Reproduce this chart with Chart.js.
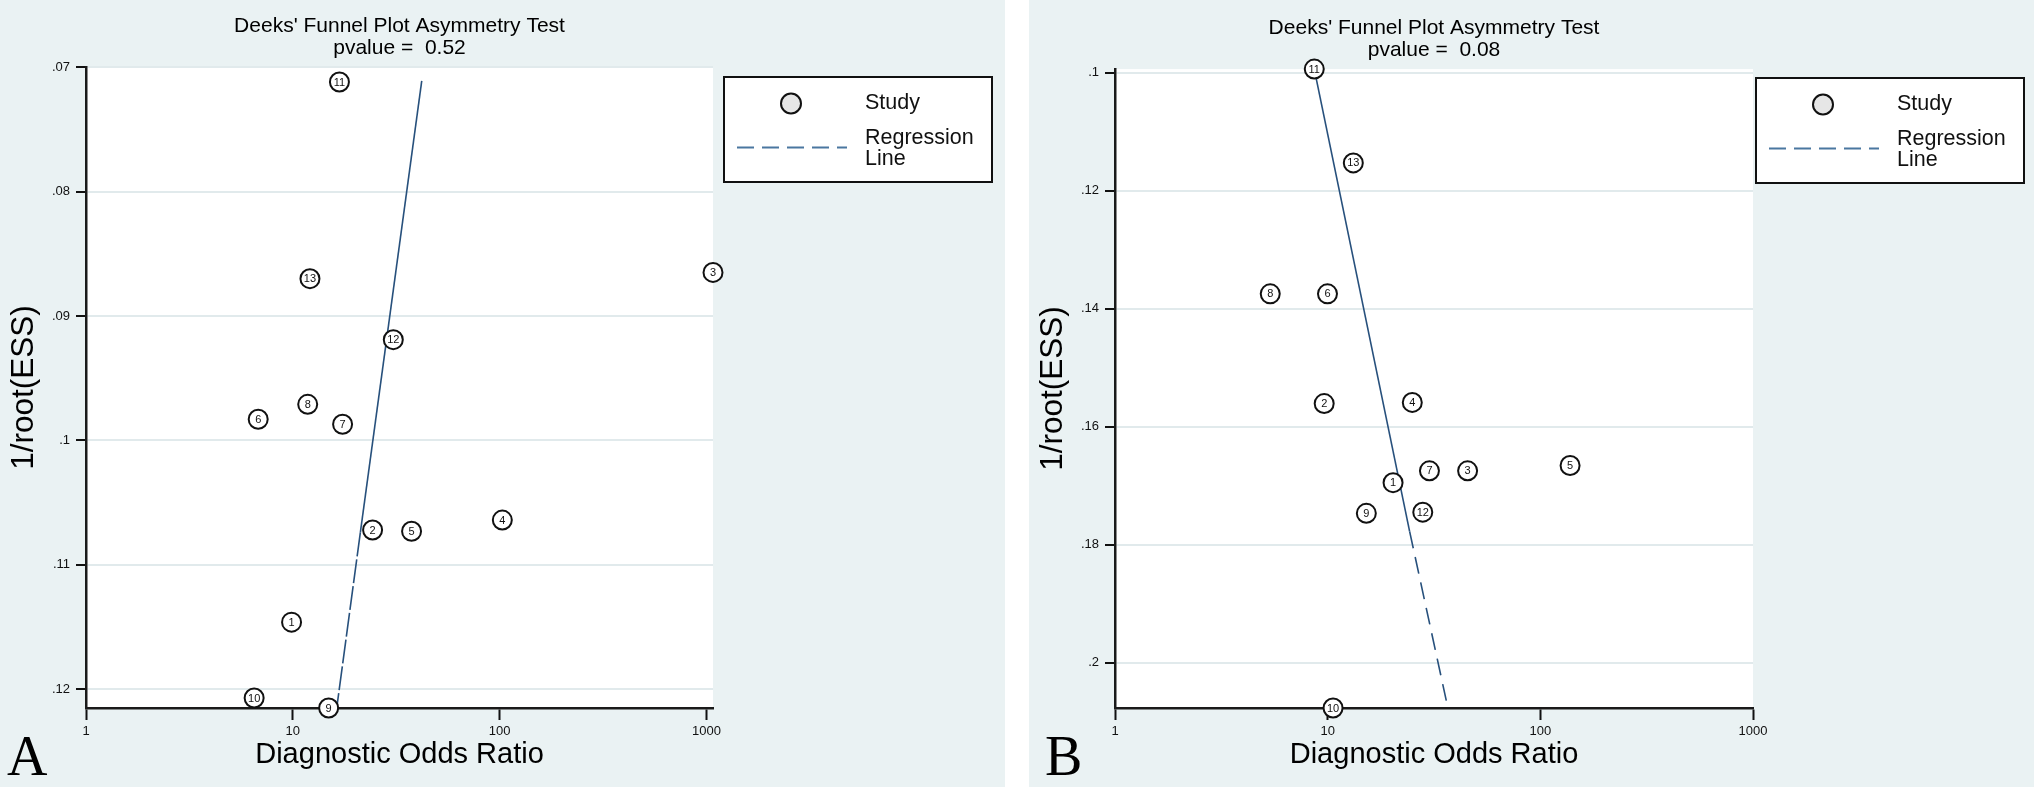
<!DOCTYPE html>
<html>
<head>
<meta charset="utf-8">
<title>Deeks' Funnel Plot Asymmetry Test</title>
<script src="https://cdn.jsdelivr.net/npm/chart.js@4.4.1/dist/chart.umd.min.js"></script>
<style>
  body { margin: 0; width: 2034px; height: 787px; background: #fff; position: relative; overflow: hidden; }
  .panel { position: absolute; top: 0; width: 1005px; height: 787px; background: #eaf2f3; }
  #panelA { left: 0; }
  #panelB { left: 1029px; }
</style>
</head>
<body>
<div class="panel" id="panelA"><canvas id="chartA"></canvas></div>
<div class="panel" id="panelB"><canvas id="chartB"></canvas></div>
<script>
// study numbers, same order in both panels
const studyIds = [1, 2, 3, 4, 5, 6, 7, 8, 9, 10, 11, 12, 13];

// panel A
const dorA = [9.86, 24.3, 1075, 103, 37.5, 6.8, 17.4, 11.8, 14.9, 6.5, 16.8, 30.6, 12.1];
const essA = [0.1146, 0.1072, 0.0865, 0.1064, 0.1073, 0.0983, 0.0987, 0.0971, 0.1215, 0.1207, 0.0712, 0.0919, 0.0870];
const lineDorA = [42, 21.2, 16.3];
const lineEssA = [0.0711, 0.1074, 0.1215];
const yTicksA = [0.07, 0.08, 0.09, 0.1, 0.11, 0.12];
const yLabelsA = ['.07', '.08', '.09', '.1', '.11', '.12'];

// panel B
const dorB = [20.3, 9.63, 45.5, 25, 138, 9.98, 30.1, 5.37, 15.2, 10.6, 8.65, 28, 13.2];
const essB = [0.1695, 0.1561, 0.1675, 0.1559, 0.1666, 0.1375, 0.1675, 0.1375, 0.1747, 0.2077, 0.0994, 0.1745, 0.1153];
const lineDorB = [8.65, 24.3, 36.5];
const lineEssB = [0.0994, 0.1778, 0.2072];
const yTicksB = [0.1, 0.12, 0.14, 0.16, 0.18, 0.2];
const yLabelsB = ['.1', '.12', '.14', '.16', '.18', '.2'];

const xTicks = [1, 10, 100, 1000];
const xLabels = ['1', '10', '100', '1000'];

const FONT = '"Liberation Sans", Arial, sans-serif';

// white plot region, number labels in circles, boxed legend, panel letter
const funnelDecor = {
    id: 'funnelDecor',
    beforeDraw(chart) {
        const { ctx, chartArea: a } = chart;
        ctx.save();
        ctx.fillStyle = '#fff';
        ctx.fillRect(a.left, a.top, a.right - a.left, a.bottom - a.top);
        ctx.restore();
    },
    afterDatasetsDraw(chart) {
        const ctx = chart.ctx;
        const meta = chart.getDatasetMeta(0);
        ctx.save();
        ctx.fillStyle = '#111';
        ctx.font = '11px ' + FONT;
        ctx.textAlign = 'center';
        ctx.textBaseline = 'middle';
        meta.data.forEach((pt, i) => {
            ctx.fillText(String(studyIds[i]), pt.x, pt.y + 0.5);
        });
        ctx.restore();
    },
    afterDraw(chart, args, opts) {
        const ctx = chart.ctx;
        const lx = opts.legendX, ly = opts.legendY;
        ctx.save();
        // legend box
        ctx.fillStyle = '#fff';
        ctx.fillRect(lx, ly, 268, 105);
        ctx.strokeStyle = '#111';
        ctx.lineWidth = 2;
        ctx.strokeRect(lx, ly, 268, 105);
        // marker
        ctx.beginPath();
        ctx.arc(lx + 67, ly + 26.5, 10, 0, Math.PI * 2);
        ctx.fillStyle = '#e6e6e6';
        ctx.fill();
        ctx.stroke();
        // dashed line sample
        ctx.beginPath();
        ctx.setLineDash([17, 8]);
        ctx.strokeStyle = '#4a77a0';
        ctx.moveTo(lx + 13, ly + 70.5);
        ctx.lineTo(lx + 123, ly + 70.5);
        ctx.stroke();
        ctx.setLineDash([]);
        // legend text
        ctx.fillStyle = '#111';
        ctx.font = '21.5px ' + FONT;
        ctx.textBaseline = 'middle';
        ctx.fillText(chart.data.datasets[0].label, lx + 141, ly + 26);
        chart.data.datasets[1].label.split(' ').forEach((w, i) => {
            ctx.fillText(w, lx + 141, ly + 61 + i * 21);
        });
        // panel letter
        ctx.font = '56px "Liberation Serif", "Times New Roman", serif';
        ctx.textBaseline = 'alphabetic';
        ctx.fillStyle = '#000';
        ctx.fillText(opts.tag, opts.tagX, 775);
        ctx.restore();
    }
};

function makeFunnel(canvasId, p) {
    const studies = p.dor.map((d, i) => ({ x: d, y: p.ess[i] }));
    const regLine = p.lineDor.map((d, i) => ({ x: d, y: p.lineEss[i] }));
    return new Chart(document.getElementById(canvasId), {
        type: 'scatter',
        data: {
            datasets: [{
                label: 'Study',
                data: studies,
                pointRadius: 9.5,
                pointBorderWidth: 2,
                borderColor: '#111',
                backgroundColor: '#fff',
                clip: false,
                order: 0
            }, {
                label: 'Regression Line',
                data: regLine,
                showLine: true,
                pointRadius: 0,
                borderColor: '#27507c',
                borderWidth: 1.6,
                // upper part looks solid, lower part dashed
                segment: { borderDash: c => (c.p0DataIndex >= 1 ? p.dash : []) },
                clip: false,
                order: 1
            }]
        },
        options: {
            responsive: true,
            maintainAspectRatio: false,
            animation: false,
            events: [],
            layout: { padding: { top: p.padTop, right: p.padRight, bottom: 0, left: 0 } },
            plugins: {
                legend: { display: false },
                tooltip: { enabled: false },
                title: {
                    display: true,
                    fullSize: false,
                    text: ["Deeks' Funnel Plot Asymmetry Test", p.pvalue],
                    color: '#000',
                    font: { family: FONT, size: 21, weight: 'normal', lineHeight: 1.05 },
                    padding: { top: 0, bottom: 8 }
                },
                funnelDecor: { legendX: p.legendX, legendY: p.legendY, tag: p.tag, tagX: p.tagX }
            },
            scales: {
                x: {
                    type: 'logarithmic',
                    min: 1,
                    max: p.xMax,
                    afterBuildTicks: s => { s.ticks = xTicks.map(v => ({ value: v })); },
                    afterFit: s => { s.height = 79; },
                    ticks: {
                        autoSkip: false,
                        maxRotation: 0,
                        padding: 4,
                        color: '#111',
                        font: { family: FONT, size: 13 },
                        callback: (v, i) => xLabels[i]
                    },
                    grid: { drawOnChartArea: false, color: '#111', tickColor: '#111', tickLength: 12, tickWidth: 2 },
                    border: { display: true, color: '#1a1a1a', width: 2.5 },
                    title: {
                        display: true,
                        text: 'Diagnostic Odds Ratio',
                        color: '#000',
                        font: { family: FONT, size: 29 },
                        padding: { top: 0, bottom: 15 }
                    }
                },
                y: {
                    type: 'linear',
                    reverse: true,
                    min: p.yMin,
                    max: p.yMax,
                    afterBuildTicks: s => { s.ticks = p.yTicks.map(v => ({ value: v })); },
                    afterFit: s => { s.width = 86; },
                    ticks: {
                        autoSkip: false,
                        padding: 6,
                        color: '#111',
                        font: { family: FONT, size: 13 },
                        callback: (v, i) => p.yLabels[i]
                    },
                    grid: { color: '#e1eaec', lineWidth: 2, tickColor: '#111', tickLength: 10, tickWidth: 2 },
                    border: { display: true, color: '#1a1a1a', width: 2.5 },
                    title: {
                        display: true,
                        text: '1/root(ESS)',
                        color: '#000',
                        font: { family: FONT, size: 31.5 },
                        padding: { top: 5, bottom: 0 }
                    }
                }
            }
        },
        plugins: [funnelDecor]
    });
}

makeFunnel('chartA', {
    dor: dorA, ess: essA, lineDor: lineDorA, lineEss: lineEssA,
    yTicks: yTicksA, yLabels: yLabelsA, yMin: 0.07, yMax: 0.1215, xMax: 1075,
    pvalue: 'pvalue =  0.52', dash: [24, 3],
    padTop: 15, padRight: 292, legendX: 724, legendY: 77, tag: 'A', tagX: 7
});

makeFunnel('chartB', {
    dor: dorB, ess: essB, lineDor: lineDorB, lineEss: lineEssB,
    yTicks: yTicksB, yLabels: yLabelsB, yMin: 0.0994, yMax: 0.2077, xMax: 1000,
    pvalue: 'pvalue =  0.08', dash: [17, 9],
    padTop: 17, padRight: 281, legendX: 727, legendY: 78, tag: 'B', tagX: 16
});
</script>
</body>
</html>
